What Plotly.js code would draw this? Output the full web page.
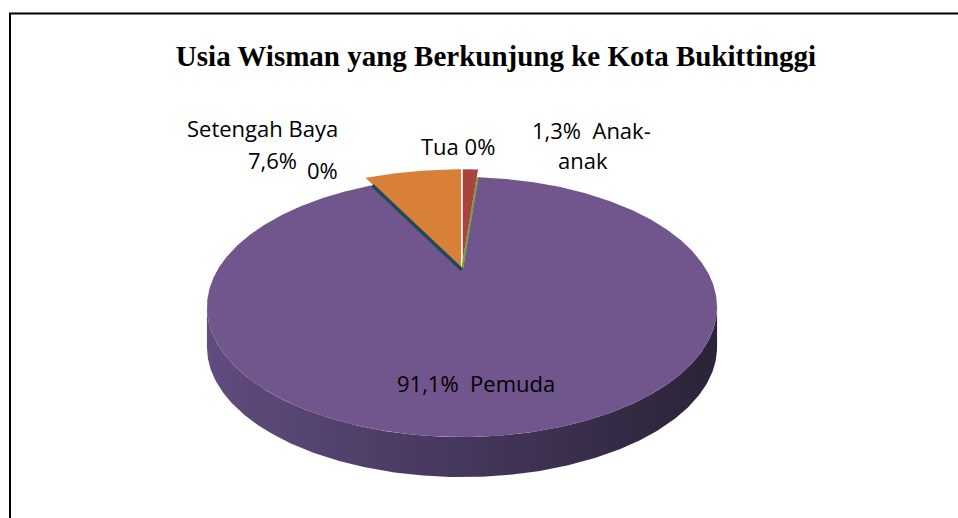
<!DOCTYPE html>
<html>
<head>
<meta charset="utf-8">
<script src="https://cdn.plot.ly/plotly-3.0.1.min.js"></script>
<style>html,body{margin:0;padding:0;background:#fff;}#chart{width:958px;height:518px;}</style>
</head>
<body>
<div id="chart"></div>
<script>
// ---- data ----
var categories = ["Anak-anak", "Tua", "Pemuda", "", "Setengah Baya"];
var values = [1.3, 0, 91.1, 0, 7.6];
var colors = ["#a8433f", "#7a9a3e", "#71568e", "#1e4a58", "#d88038"];
var chartTitle = "Usia Wisman yang Berkunjung ke Kota Bukittinggi";

// ---- 3D pie geometry (style) ----
var X0 = 462, Y0 = 270, A = 244.5, B = 119.5, K = 0.2847, DEPTH = 40;
var radiusScale = [1.12, 1, 1, 1, 1.12];
var sideScale = [[0, "#604c7e"], [0.5, "#46375c"], [1, "#2b2337"]];

function proj(u, v) { var w = 1 + K * v; return [X0 + A * u / w, Y0 - B * v / w]; }
function rad(d) { return d * Math.PI / 180; }
function fmt(v) { return (v === 0 ? "0" : v.toFixed(1).replace(".", ",")) + "%"; }

var total = values.reduce(function (a, b) { return a + b; }, 0);
var slices = [];
var acc = 0;
values.forEach(function (v, i) {
  var a1 = acc / total * 360; acc += v; var a2 = acc / total * 360;
  slices.push({ a1: a1, a2: a2, i: i });
});

var traces = [];
// side walls (front visible part)
var tA = Math.acos(-K) * 180 / Math.PI; // ~106.5
var sStart = tA, sEnd = 360 - tA;
slices.forEach(function (s) {
  var lo = Math.max(s.a1, sStart), hi = Math.min(s.a2, sEnd);
  if (hi <= lo) return;
  var xs = [], ys = [];
  var n = Math.ceil((hi - lo) / 0.5);
  for (var k = 0; k <= n; k++) {
    var t = rad(lo + (hi - lo) * k / n); var p = proj(Math.sin(t), Math.cos(t));
    xs.push(p[0]); ys.push(p[1]);
  }
  for (var k2 = n; k2 >= 0; k2--) {
    var t2 = rad(lo + (hi - lo) * k2 / n); var p2 = proj(Math.sin(t2), Math.cos(t2));
    xs.push(p2[0]); ys.push(p2[1] + DEPTH);
  }
  xs.push(xs[0]); ys.push(ys[0]);
  traces.push({
    type: "scatter", mode: "lines", x: xs, y: ys, fill: "toself",
    fillgradient: { type: "horizontal", colorscale: sideScale },
    fillcolor: "#46375c",
    line: { width: 0, color: "rgba(0,0,0,0)" }, hoverinfo: "skip", showlegend: false
  });
});

// top faces, largest first
var order = slices.slice().sort(function (a, b) { return (b.a2 - b.a1) - (a.a2 - a.a1); });
order.forEach(function (s) {
  if (s.a2 - s.a1 <= 0) return;
  var r = radiusScale[s.i];
  var xs = [], ys = [];
  var c = proj(0, 0); xs.push(c[0]); ys.push(c[1]);
  var n = Math.ceil((s.a2 - s.a1) / 0.5);
  for (var k = 0; k <= n; k++) {
    var t = rad(s.a1 + (s.a2 - s.a1) * k / n); var p = proj(r * Math.sin(t), r * Math.cos(t));
    xs.push(p[0]); ys.push(p[1]);
  }
  xs.push(c[0]); ys.push(c[1]);
  var big = (s.a2 - s.a1) > 180;
  traces.push({
    type: "scatter", mode: "lines", x: xs, y: ys, fill: "toself",
    fillcolor: colors[s.i],
    line: { width: big ? 0 : 1.5, color: big ? "rgba(0,0,0,0)" : "#ffffff" },
    hoverinfo: "skip", showlegend: false, name: categories[s.i]
  });
});

// zero-value slices drawn as thin edges
slices.forEach(function (s) {
  if (s.a2 - s.a1 > 0) return;
  var t = rad(s.a1);
  var rr = 1.0;
  var c = proj(0, 0), p = proj(rr * Math.sin(t), rr * Math.cos(t));
  traces.push({
    type: "scatter", mode: "lines", x: [c[0], p[0]], y: [c[1], p[1]],
    line: { width: s.i === 3 ? 3.5 : 2, color: colors[s.i] },
    hoverinfo: "skip", showlegend: false
  });
});

// ---- labels ----
var lf = { family: "'Open Sans', sans-serif", size: 22, color: "#000" };
function ann(text, x, y) {
  return { text: text, x: x, y: y, xref: "x", yref: "y", showarrow: false, font: lf, xanchor: "center", yanchor: "middle" };
}
var annotations = [
  ann(categories[4], 262, 128),
  ann(fmt(values[4]), 272, 160),
  ann(fmt(values[3]), 322, 170),
  ann(categories[1] + " " + fmt(values[1]), 458, 146),
  ann(fmt(values[0]) + "  " + categories[0].split("-")[0] + "-", 591, 130),
  ann(categories[0].split("-")[1], 583, 160),
  ann(fmt(values[2]) + "  " + categories[2], 476, 383)
];

var layout = {
  width: 958, height: 518,
  margin: { l: 0, r: 0, t: 0, b: 0 },
  paper_bgcolor: "#ffffff", plot_bgcolor: "#ffffff",
  showlegend: false,
  title: {
    text: "<b>" + chartTitle + "</b>",
    font: { family: "'Liberation Serif', 'Times New Roman', serif", size: 29, color: "#000" },
    x: 496 / 958, xanchor: "center", xref: "paper",
    y: 1 - 56 / 518, yanchor: "middle", yref: "paper"
  },
  xaxis: { range: [0, 958], visible: false, fixedrange: true },
  yaxis: { range: [518, 0], visible: false, fixedrange: true },
  shapes: [{ type: "rect", xref: "x", yref: "y", x0: 10, x1: 1000, y0: 13.5, y1: 560,
    line: { color: "#000", width: 2 }, fillcolor: "rgba(0,0,0,0)", layer: "above" }],
  annotations: annotations
};

Plotly.newPlot("chart", traces, layout, { staticPlot: true, displayModeBar: false });
</script>
</body>
</html>
